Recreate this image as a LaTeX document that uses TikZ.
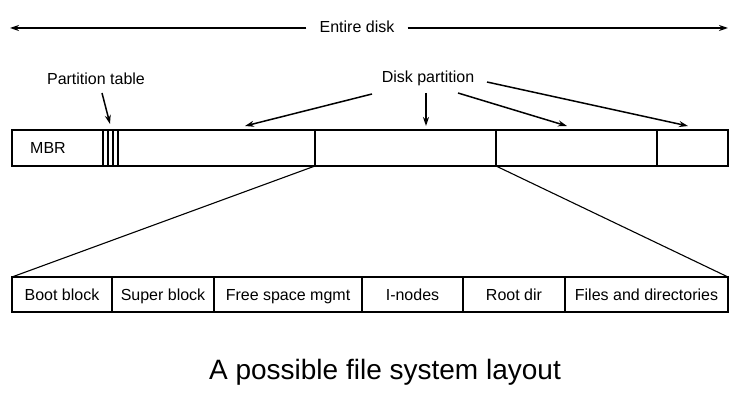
\documentclass[tikz,border=0pt]{standalone}
\usepackage{fontspec}
\setmainfont{Liberation Sans}
\usetikzlibrary{arrows.meta}
\begin{document}
\begin{tikzpicture}[x=1pt,y=-1pt,
  seg/.style={draw,line width=1.1pt,inner sep=0pt,outer sep=0pt,anchor=north west,font=\fontsize{16}{18}\selectfont,text height=16.5pt,text depth=3.5pt},
  lbl/.style={inner sep=1pt,font=\fontsize{16}{18}\selectfont,text height=11.5pt,text depth=3.5pt},
  arr/.style={line width=1.5pt,-{Stealth[length=9pt,width=6pt]}},
  fan/.style={line width=1.1pt}]
\useasboundingbox (0,0) rectangle (750,403);
% entire disk
\node[lbl] (ed) at (357,29) {Entire disk};
\coordinate (edl) at (10,28);
\coordinate (edr) at (728,28);
\draw[arr] (ed.west |- edl) ++(-12,0) -- (edl);
\draw[arr] (ed.east |- edr) ++(12,0) -- (edr);
% disk bar
\node[seg,minimum width=91pt,minimum height=36pt] (mbr) at (12,130) {};
\node[lbl] at (48,150) {MBR};
\node[seg,minimum width=15pt,minimum height=36pt] (pt) at (103,130) {};
\draw[line width=1.1pt] (108,130) -- (108,166) (113,130) -- (113,166);
\node[seg,minimum width=197pt,minimum height=36pt] (p1) at (118,130) {};
\node[seg,minimum width=181pt,minimum height=36pt] (p2) at (315,130) {};
\node[seg,minimum width=161pt,minimum height=36pt] (p3) at (496,130) {};
\node[seg,minimum width=71pt,minimum height=36pt] (p4) at (657,130) {};
% labels
\node[lbl] (ptl) at (96,81) {Partition table};
\node[lbl] (dpl) at (428,79) {Disk partition};
\coordinate (ptt) at (110,124);
\draw[arr] (102,93) -- (ptt);
\coordinate (t1) at (245,126);
\coordinate (t2) at (426,126);
\coordinate (t3) at (567,126);
\coordinate (t4) at (688,126);
\draw[arr] (372,94) -- (t1);
\draw[arr] (426,93) -- (t2);
\draw[arr] (458,93) -- (t3);
\draw[arr] (487,82) -- (t4);
% lower bar
\node[seg,minimum width=100pt,minimum height=35pt] (boot) at (12,277) {Boot block};
\node[seg,minimum width=102pt,minimum height=35pt] (super) at (112,277) {Super block};
\node[seg,minimum width=148pt,minimum height=35pt] (free) at (214,277) {Free space mgmt};
\node[seg,minimum width=101pt,minimum height=35pt] (inodes) at (362,277) {I-nodes};
\node[seg,minimum width=102pt,minimum height=35pt] (root) at (463,277) {Root dir};
\node[seg,minimum width=163pt,minimum height=35pt] (files) at (565,277) {Files and directories};
% fan lines
\draw[fan] (p2.south west) -- (boot.north west);
\draw[fan] (p2.south east) -- (files.north east);
% caption
\node[font=\fontsize{28}{32}\selectfont] (cap) at (385,372) {A possible file system layout};
\end{tikzpicture}
\end{document}
